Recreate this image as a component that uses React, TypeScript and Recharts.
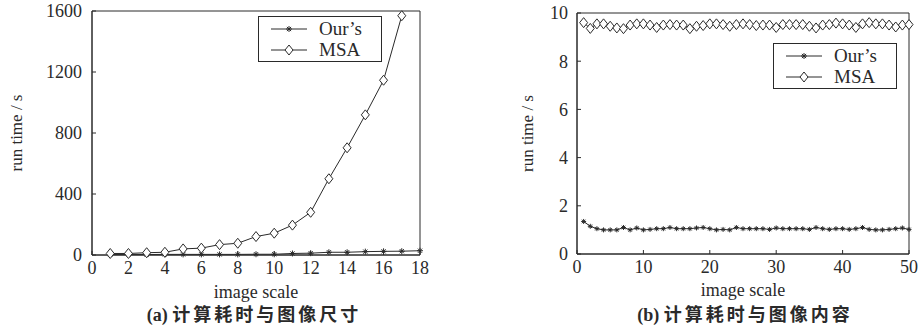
import React from "react";
import { LineChart, Line, XAxis, YAxis, Label, ReferenceArea } from "recharts";

// (a) run time vs image size
const scaleA = [1, 2, 3, 4, 5, 6, 7, 8, 9, 10, 11, 12, 13, 14, 15, 16, 17, 18];
const oursA = [3, 3, 3, 4, 4, 4, 4, 4, 5, 5, 10, 12, 18, 18, 22, 24, 25, 28];
const msaA = [10, 10, 15, 18, 40, 45, 68, 77, 121, 143, 196, 280, 500, 703, 919, 1146, 1569, null];
const xTicksA = [0, 2, 4, 6, 8, 10, 12, 14, 16, 18];
const yTicksA = [0, 400, 800, 1200, 1600];

// (b) run time vs image content
const scaleB = Array.from({ length: 50 }, (_, i) => i + 1);
const oursB = [
  1.35, 1.15, 1.05, 1.0, 1.0, 1.0, 1.1, 1.0, 1.08, 1.0,
  1.02, 1.05, 1.05, 1.1, 1.05, 1.05, 1.05, 1.08, 1.1, 1.05,
  1.0, 1.02, 1.0, 1.1, 1.05, 1.05, 1.05, 1.05, 1.02, 1.08,
  1.05, 1.05, 1.05, 1.05, 1.02, 1.1, 1.05, 1.02, 1.05, 1.05,
  1.02, 1.05, 1.1, 1.02, 1.0, 1.0, 1.02, 1.05, 1.08, 1.02,
];
const msaB = [
  9.6, 9.36, 9.55, 9.55, 9.45, 9.38, 9.35, 9.5, 9.55, 9.55,
  9.5, 9.4, 9.5, 9.52, 9.5, 9.5, 9.35, 9.45, 9.48, 9.55,
  9.55, 9.52, 9.45, 9.52, 9.55, 9.52, 9.48, 9.5, 9.5, 9.4,
  9.52, 9.52, 9.52, 9.52, 9.45, 9.38, 9.5, 9.52, 9.58, 9.55,
  9.5, 9.4, 9.55, 9.6, 9.55, 9.55, 9.5, 9.42, 9.5, 9.52,
];
const xTicksB = [0, 10, 20, 30, 40, 50];
const yTicksB = [0, 2, 4, 6, 8, 10];

const INK = "#2a2a2a";
const FONT = '"Liberation Serif", "Times New Roman", serif';
const CJK = '"Liberation Serif", "Noto Sans CJK SC", serif';

const dataA = scaleA.map((x, i) => ({ x, ours: oursA[i], msa: msaA[i] }));
const dataB = scaleB.map((x, i) => ({ x, ours: oursB[i], msa: msaB[i] }));

const Diamond = (props: any) => {
  const { cx, cy, size = 4 } = props;
  if (cx == null || cy == null || props.value == null) return null;
  return (
    <path
      d={`M${cx},${cy - size - 1} L${cx + size},${cy} L${cx},${cy + size + 1} L${cx - size},${cy} Z`}
      fill="#fff"
      stroke={INK}
      strokeWidth={1}
    />
  );
};

const Star = (props: any) => {
  const { cx, cy, size = 3 } = props;
  if (cx == null || cy == null || props.value == null) return null;
  const d = size * 0.7;
  return (
    <g stroke={INK} strokeWidth={1}>
      <line x1={cx - size} y1={cy} x2={cx + size} y2={cy} />
      <line x1={cx} y1={cy - size} x2={cx} y2={cy + size} />
      <line x1={cx - d} y1={cy - d} x2={cx + d} y2={cy + d} />
      <line x1={cx - d} y1={cy + d} x2={cx + d} y2={cy - d} />
    </g>
  );
};

const legendItems = [
  { name: "Our\u2019s", mark: "star" },
  { name: "MSA", mark: "diamond" },
];

const LegendBox = ({ left, top }: { left: number; top: number }) => (
  <div
    style={{
      position: "absolute",
      left,
      top,
      width: 124,
      height: 46,
      border: `1px solid ${INK}`,
      background: "#fff",
      fontFamily: FONT,
      fontSize: 19,
      color: INK,
      boxSizing: "border-box",
      padding: "1px 0 0 10px",
      lineHeight: "21px",
    }}
  >
    {legendItems.map((it) => (
      <div key={it.name} style={{ display: "flex", alignItems: "center", height: 21 }}>
        <svg width={40} height={21}>
          <line x1={2} y1={11} x2={38} y2={11} stroke={INK} strokeWidth={1} />
          {it.mark === "star" ? <Star cx={20} cy={11} value={1} /> : <Diamond cx={20} cy={11} value={1} />}
        </svg>
        <span style={{ marginLeft: 10 }}>{it.name}</span>
      </div>
    ))}
  </div>
);

const tickStyle = { fill: INK, fontSize: 18, fontFamily: FONT };
const titleStyle = { fill: INK, fontSize: 18, fontFamily: FONT };

const captionStyle: React.CSSProperties = {
  position: "absolute",
  top: 305,
  width: 300,
  textAlign: "center",
  whiteSpace: "nowrap",
  fontFamily: CJK,
  fontSize: 18,
  lineHeight: "21px",
  fontWeight: "bold",
  color: INK,
};

const Caption = ({ left, tag, text }: { left: number; tag: string; text: string }) => (
  <div style={{ ...captionStyle, left }}>
    <span>{tag} </span>
    <span style={{ letterSpacing: 3 }}>{text}</span>
  </div>
);

export default function App() {
  return (
    <div style={{ position: "absolute", left: 0, top: 0, width: 919, height: 329, background: "#fff" }}>
      <div style={{ position: "absolute", left: 0, top: 0 }}>
        <LineChart width={430} height={329} data={dataA} margin={{ top: 11, right: 10, left: 0, bottom: 44 }}>
          <XAxis
            dataKey="x"
            type="number"
            domain={[0, 18]}
            ticks={xTicksA}
            interval={0}
            stroke={INK}
            tick={tickStyle}
            tickSize={-4}
            tickMargin={10}
            height={30}
          >
            <Label value="image scale" position="bottom" offset={0} style={titleStyle} />
          </XAxis>
          <YAxis
            type="number"
            domain={[0, 1600]}
            ticks={yTicksA}
            interval={0}
            stroke={INK}
            tick={tickStyle}
            tickSize={-4}
            tickMargin={14}
            width={92}
          >
            <Label value="run time / s" angle={-90} position="insideLeft" offset={16} style={{ ...titleStyle, fontSize: 17, textAnchor: "middle" }} />
          </YAxis>
          <ReferenceArea x1={0} x2={18} y1={0} y2={1600} fill="none" stroke={INK} strokeWidth={1} />
          <Line dataKey="ours" name="Our’s" stroke={INK} strokeWidth={1} dot={<Star />} isAnimationActive={false} />
          <Line dataKey="msa" name="MSA" stroke={INK} strokeWidth={1} dot={<Diamond />} isAnimationActive={false} />
        </LineChart>
      </div>
      <div style={{ position: "absolute", left: 480, top: 0 }}>
        <LineChart width={439} height={329} data={dataB} margin={{ top: 13, right: 10, left: 0, bottom: 45 }}>
          <XAxis
            dataKey="x"
            type="number"
            domain={[0, 50]}
            ticks={xTicksB}
            interval={0}
            stroke={INK}
            tick={tickStyle}
            tickSize={-4}
            tickMargin={10}
            height={30}
          >
            <Label value="image scale" position="bottom" offset={-1} style={titleStyle} />
          </XAxis>
          <YAxis
            type="number"
            domain={[0, 10]}
            ticks={yTicksB}
            interval={0}
            stroke={INK}
            tick={tickStyle}
            tickSize={-4}
            tickMargin={13}
            width={97}
          >
            <Label value="run time / s" angle={-90} position="insideLeft" offset={47} style={{ ...titleStyle, fontSize: 17, textAnchor: "middle" }} />
          </YAxis>
          <ReferenceArea x1={0} x2={50} y1={0} y2={10} fill="none" stroke={INK} strokeWidth={1} />
          <Line dataKey="ours" name="Our’s" stroke={INK} strokeWidth={1} dot={<Star size={2.5} />} isAnimationActive={false} />
          <Line dataKey="msa" name="MSA" stroke={INK} strokeWidth={1} dot={<Diamond />} isAnimationActive={false} />
        </LineChart>
      </div>
      <LegendBox left={258} top={16} />
      <LegendBox left={773} top={43} />
      <Caption left={104} tag="(a)" text="计算耗时与图像尺寸" />
      <Caption left={595} tag="(b)" text="计算耗时与图像内容" />
    </div>
  );
}
